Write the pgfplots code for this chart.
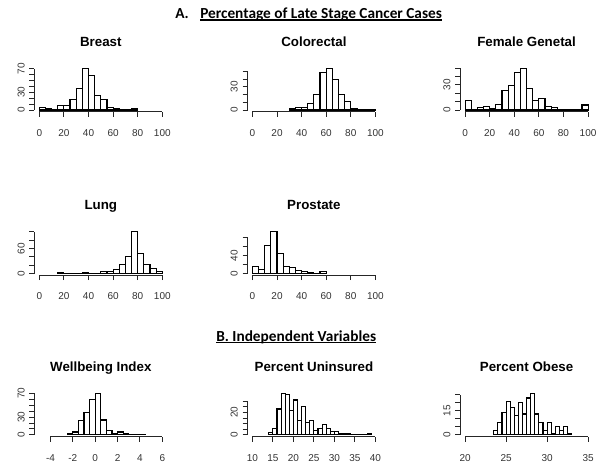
\documentclass[border=0pt]{standalone}
\usepackage{fontspec}
\setmainfont{Liberation Sans}
\newfontfamily\calibri{Carlito}
\usepackage{pgfplots}
\pgfplotsset{compat=1.18}
\tikzset{axl/.style={black!85, line width=0.75pt}}
\pgfplotsset{
 rhist/.style={
  scale only axis, width=99.6pt, height=33.825pt,
  axis x line*=bottom, axis y line*=left,
  axis line style={draw=none},
  tick align=outside, major tick length=3.75pt,
  every tick/.style={black!85, line width=0.75pt},
  clip=false,
  ticklabel style={font=\fontsize{7.5}{9}\selectfont, text=black!80},
  yticklabel style={rotate=90, anchor=south},
  xticklabel shift=6pt, yticklabel shift=0pt,
  every axis title/.style={font=\bfseries\fontsize{10}{12}\selectfont, anchor=base, at={(0.5,1)}, yshift=15.2pt},
  anchor=south west,
 },
 hbar/.style={ybar, bar width=#1, draw=black, fill=none, line width=0.85pt},
}
\begin{document}
\begin{tikzpicture}
\useasboundingbox (0,0) rectangle (450pt,354pt);
% Headings
\node[anchor=base west, inner sep=0, font=\calibri\bfseries\fontsize{11.5}{13}\selectfont] at (131.25pt,340.275pt) {A.};
\node[anchor=base west, inner sep=0, font=\calibri\bfseries\fontsize{11.5}{13}\selectfont] (PA) at (150pt,340.275pt) {Percentage of Late Stage Cancer Cases};
\draw[line width=0.9pt] ([yshift=-1.3pt]PA.base west) -- ([yshift=-1.3pt]PA.base east);
\node[anchor=base west, inner sep=0, font=\calibri\bfseries\fontsize{11.5}{13}\selectfont] (PB) at (162pt,98.25pt) {B. Independent Variables};
\draw[line width=0.9pt] ([yshift=-1.3pt]PB.base west) -- ([yshift=-1.3pt]PB.base east);

% Breast
\begin{axis}[rhist, at={(25.8pt,270.225pt)}, title={Breast},
 xmin=-4, xmax=104, ymin=-2.84, ymax=73.84,
 xtick={0,20,40,60,80,100}, xticklabels={0,20,40,60,80,100},
 ytick={0,10,20,30,40,50,60,70}, yticklabels={0,,,30,,,,70}]
\addplot[hbar=5] coordinates {(2.5,4) (7.5,2) (12.5,1) (17.5,8) (22.5,7) (27.5,18) (32.5,36) (37.5,71) (42.5,59) (47.5,25) (52.5,18) (57.5,4) (62.5,2) (67.5,1) (72.5,1) (77.5,2)};
\draw[axl] (axis cs:0,-2.84) -- (axis cs:100,-2.84);
\draw[axl] (axis cs:-4,0) -- (axis cs:-4,70);
\end{axis}

% Colorectal
\begin{axis}[rhist, at={(185.625pt,270.225pt)}, title={Colorectal},
 xmin=-4, xmax=104, ymin=-2.16, ymax=56.16,
 xtick={0,20,40,60,80,100}, xticklabels={0,20,40,60,80,100},
 ytick={0,10,20,30,40,50}, yticklabels={0,,,30,,}]
\addplot[hbar=5] coordinates {(32.5,2) (37.5,3) (42.5,3) (47.5,9) (52.5,20) (57.5,49) (62.5,54) (67.5,40) (72.5,20) (77.5,11) (82.5,2) (87.5,1) (92.5,0) (97.5,1)};
\draw[axl] (axis cs:0,-2.16) -- (axis cs:100,-2.16);
\draw[axl] (axis cs:-4,0) -- (axis cs:-4,50);
\end{axis}

% Female Genetal
\begin{axis}[rhist, at={(345.15pt,270.225pt)}, title={Female Genetal},
 xmin=-4, xmax=104, ymin=-2, ymax=52,
 xtick={0,20,40,60,80,100}, xticklabels={0,20,40,60,80,100},
 ytick={0,10,20,30,40,50}, yticklabels={0,,,30,,}]
\addplot[hbar=5] coordinates {(2.5,11) (7.5,0) (12.5,3) (17.5,4) (22.5,2) (27.5,7) (32.5,23) (37.5,29) (42.5,45) (47.5,50) (52.5,26) (57.5,11) (62.5,14) (67.5,4) (72.5,3) (77.5,1) (82.5,1) (87.5,0) (92.5,0) (97.5,6)};
\draw[axl] (axis cs:0,-2) -- (axis cs:100,-2);
\draw[axl] (axis cs:-4,0) -- (axis cs:-4,50);
\end{axis}

% Lung
\begin{axis}[rhist, at={(25.8pt,147.6pt)}, title={Lung},
 xmin=-4, xmax=104, ymin=-4, ymax=104,
 xtick={0,20,40,60,80,100}, xticklabels={0,20,40,60,80,100},
 ytick={0,20,40,60,80,100}, yticklabels={0,,,60,,}]
\addplot[hbar=5] coordinates {(17.5,2) (22.5,1) (27.5,1) (32.5,1) (37.5,2) (42.5,1) (47.5,1) (52.5,4) (57.5,4) (62.5,9) (67.5,22) (72.5,41) (77.5,100) (82.5,47) (87.5,22) (92.5,12) (97.5,4)};
\draw[axl] (axis cs:0,-4) -- (axis cs:100,-4);
\draw[axl] (axis cs:-4,0) -- (axis cs:-4,100);
\end{axis}

% Prostate
\begin{axis}[rhist, at={(185.625pt,147.6pt)}, title={Prostate},
 xmin=-4, xmax=104, ymin=-3.76, ymax=97.76,
 xtick={0,20,40,60,80,100}, xticklabels={0,20,40,60,80,100},
 ytick={0,20,40,60,80}, yticklabels={0,,40,,}]
\addplot[hbar=5] coordinates {(2.5,15) (7.5,10) (12.5,64) (17.5,94) (22.5,45) (27.5,16) (32.5,13) (37.5,6) (42.5,4) (47.5,3) (52.5,1) (57.5,4)};
\draw[axl] (axis cs:0,-3.76) -- (axis cs:100,-3.76);
\draw[axl] (axis cs:-4,0) -- (axis cs:-4,80);
\end{axis}

% Wellbeing Index
\begin{axis}[rhist, at={(25.8pt,26.55pt)}, title={Wellbeing Index},
 xmin=-5.44, xmax=6.44, ymin=-2.8, ymax=72.8,
 xtick={-4,-2,0,2,4,6}, xticklabels={-4,-2,0,2,4,6},
 ytick={0,10,20,30,40,50,60,70}, yticklabels={0,,,30,,,,70}]
\addplot[hbar=0.5] coordinates {(-2.25,3) (-1.75,5) (-1.25,24) (-0.75,38) (-0.25,59) (0.25,70) (0.75,25) (1.25,8) (1.75,3) (2.25,5) (2.75,2) (3.25,1) (3.75,1) (4.25,1)};
\draw[axl] (axis cs:-4,-2.8) -- (axis cs:6,-2.8);
\draw[axl] (axis cs:-5.44,0) -- (axis cs:-5.44,70);
\end{axis}

% Percent Uninsured
\begin{axis}[rhist, at={(185.625pt,26.55pt)}, title={Percent Uninsured},
 xmin=8.8, xmax=41.2, ymin=-1.48, ymax=38.48,
 xtick={10,15,20,25,30,35,40}, xticklabels={10,15,20,25,30,35,40},
 ytick={0,5,10,15,20,25,30}, yticklabels={0,,,,20,,}]
\addplot[hbar=1] coordinates {(14.5,2) (15.5,6) (16.5,23) (17.5,37) (18.5,36) (19.5,22) (20.5,31) (21.5,13) (22.5,25) (23.5,11) (24.5,13) (25.5,4) (26.5,6) (27.5,9) (28.5,6) (29.5,3) (30.5,3) (31.5,1) (32.5,1) (33.5,1) (34.5,0) (35.5,0) (36.5,0) (37.5,0) (38.5,1)};
\draw[axl] (axis cs:10,-1.48) -- (axis cs:40,-1.48);
\draw[axl] (axis cs:8.8,0) -- (axis cs:8.8,30);
\end{axis}

% Percent Obese
\begin{axis}[rhist, at={(345.15pt,26.55pt)}, title={Percent Obese},
 xmin=19.4, xmax=35.6, ymin=-1.04, ymax=27.04,
 xtick={20,25,30,35}, xticklabels={20,25,30,35},
 ytick={0,5,10,15,20,25}, yticklabels={0,,,15,,}]
\addplot[hbar=0.5] coordinates {(23.75,3) (24.25,8) (24.75,14) (25.25,21) (25.75,17) (26.25,12) (26.75,20) (27.25,13) (27.75,23) (28.25,26) (28.75,13) (29.25,8) (29.75,3) (30.25,8) (30.75,1) (31.25,5) (31.75,3) (32.25,5) (32.75,1)};
\draw[axl] (axis cs:20,-1.04) -- (axis cs:35,-1.04);
\draw[axl] (axis cs:19.4,0) -- (axis cs:19.4,25);
\end{axis}
\end{tikzpicture}
\end{document}
